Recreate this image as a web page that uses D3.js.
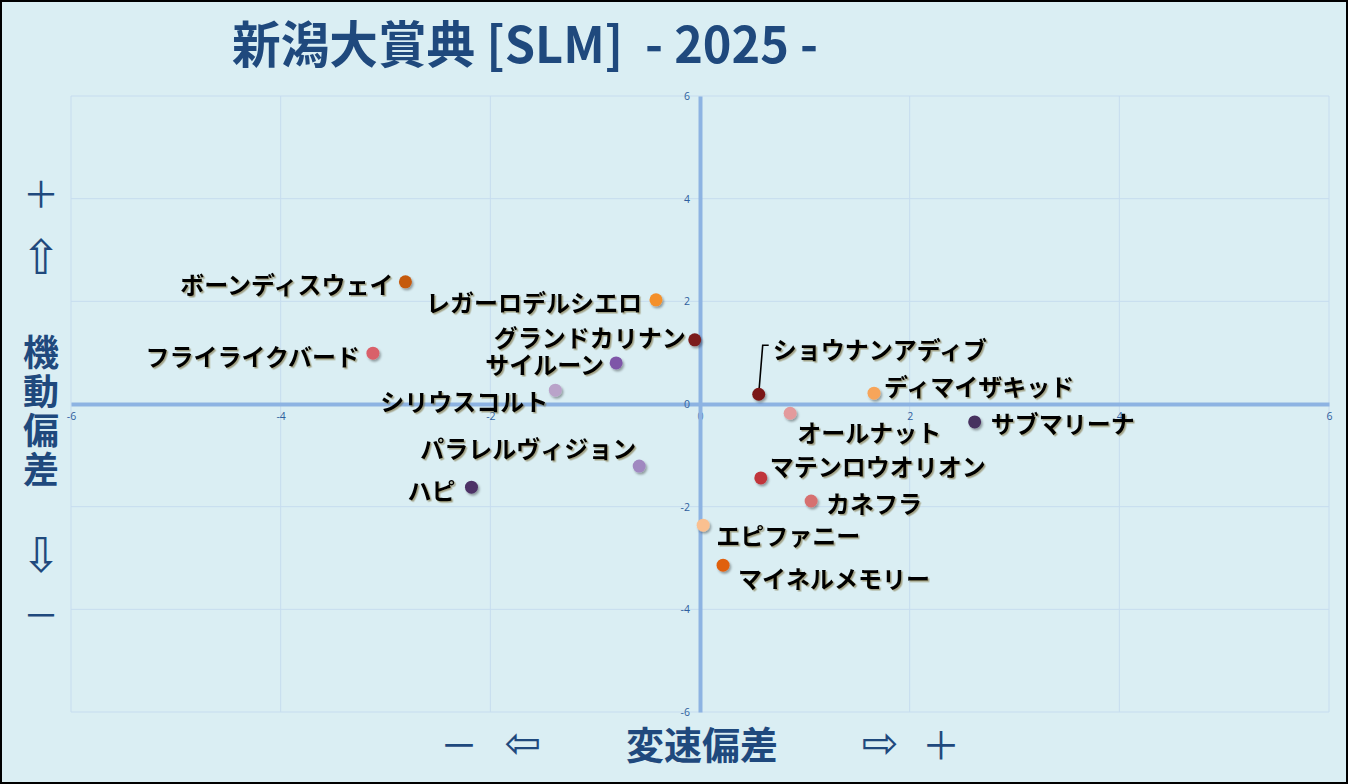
<!DOCTYPE html>
<html><head><meta charset="utf-8">
<script src="https://cdn.jsdelivr.net/npm/d3@7/dist/d3.min.js"></script>
<style>
html,body{margin:0;padding:0;background:#daeef3;}
svg{display:block;}
</style></head>
<body>
<svg id="chart" width="1348" height="784"></svg>
<script>
// ---- data ----
const horses = ["ボーンディスウェイ","レガーロデルシエロ","グランドカリナン","フライライクバード","サイルーン","シリウスコルト","ショウナンアディブ","ディマイザキッド","オールナット","サブマリーナ","パラレルヴィジョン","ハピ","マテンロウオリオン","カネフラ","エピファニー","マイネルメモリー"];
const speedDev = [-2.81,-0.42,-0.05,-3.12,-0.80,-1.38,0.56,1.66,0.86,2.62,-0.58,-2.18,0.58,1.06,0.03,0.22];
const mobilityDev = [2.38,2.03,1.25,0.99,0.80,0.27,0.19,0.21,-0.18,-0.35,-1.21,-1.62,-1.44,-1.89,-2.36,-3.14];
const xTicks = [-6,-4,-2,0,2,4,6];
const yTicks = [-6,-4,-2,0,2,4,6];
const title = "新潟大賞典 [SLM]  - 2025 -";

// ---- styling / layout (not data) ----
const colors = ["#c55a11","#f4902a","#7b1f1f","#d9606a","#7e57a8","#b9a3c9","#7a1818","#f7a55a","#e39a9c","#47305e","#a088c0","#4d3266","#c0343a","#d66f70","#fac090","#e06010"];
// label placement: [dx, dy, anchor]
const labelPlace = [[-12,2,"end"],[-14,2,"end"],[-9,-3,"end"],[-13,2,"end"],[-12,1,"end"],[-7,10,"end"],[14,-46,"start"],[10,-8,"start"],[7,18,"start"],[16,1,"start"],[-3,-19,"end"],[-16,2,"end"],[9,-12,"start"],[15,1,"start"],[13,9,"start"],[15,12,"start"]];

const W=1348,H=784;
const svg=d3.select("#chart");
const navy="#1f497d";
const font="'Noto Sans CJK JP','Noto Sans',sans-serif";

const defs=svg.append("defs");
const f1=defs.append("filter").attr("id","ptShadow").attr("x","-50%").attr("y","-50%").attr("width","200%").attr("height","200%");
f1.append("feDropShadow").attr("dx",1.5).attr("dy",2).attr("stdDeviation",1.2).attr("flood-color","#000").attr("flood-opacity",0.35);
const f2=defs.append("filter").attr("id","txtShadow").attr("x","-10%").attr("y","-30%").attr("width","120%").attr("height","160%");
f2.append("feDropShadow").attr("dx",1.5).attr("dy",1.5).attr("stdDeviation",0.6).attr("flood-color","#6b5a20").attr("flood-opacity",0.5);

svg.append("rect").attr("x",1).attr("y",1).attr("width",W-2).attr("height",H-2).attr("fill","#daeef3").attr("stroke","#000").attr("stroke-width",2);

const x=d3.scaleLinear().domain([-6,6]).range([71,1329]);
const y=d3.scaleLinear().domain([-6,6]).range([712,96]);

// grid
const grid=svg.append("g");
grid.selectAll("line.vx").data(xTicks).join("line").attr("x1",d=>x(d)).attr("x2",d=>x(d)).attr("y1",y(6)).attr("y2",y(-6)).attr("stroke","#c6dcef").attr("stroke-width",1);
grid.selectAll("line.hy").data(yTicks).join("line").attr("y1",d=>y(d)).attr("y2",d=>y(d)).attr("x1",x(-6)).attr("x2",x(6)).attr("stroke","#c6dcef").attr("stroke-width",1);

// axes through origin
const fmt=d=>String(d);
const xAxis=d3.axisBottom(x).tickValues(xTicks).tickFormat(fmt).tickSize(0).tickPadding(9);
const gx=svg.append("g").attr("transform",`translate(0,${y(0)})`).call(xAxis);
gx.select(".domain").attr("stroke","#8db3e2").attr("stroke-width",4);
gx.selectAll("text").attr("fill","#2f5f9e").style("font-family","'Open Sans',sans-serif").style("font-size","10.5px");
const yAxis=d3.axisLeft(y).tickValues(yTicks).tickFormat(fmt).tickSize(0).tickPadding(10);
const gy=svg.append("g").attr("transform",`translate(${x(0)},0)`).call(yAxis);
gy.select(".domain").attr("stroke","#8db3e2").attr("stroke-width",4);
gy.selectAll("text").attr("fill","#2f5f9e").style("font-family","'Open Sans',sans-serif").style("font-size","10.5px");

// title
svg.append("text").attr("x",232).attr("y",63).attr("textLength",586).attr("lengthAdjust","spacingAndGlyphs")
  .attr("fill",navy).style("font-family",font).style("font-weight","bold").style("font-size","50px").style("white-space","pre").text(title);

// left axis title
const isArrow=s=>/[⇧⇩⇦⇨]/.test(s);
const leftItems=[["＋",192],["⇧",257],["機",350],["動",389],["偏",428],["差",467],["⇩",555],["－",613]];
svg.append("g").selectAll("text").data(leftItems).join("text")
  .attr("x",41).attr("y",d=>d[1]).attr("text-anchor","middle").attr("dominant-baseline","central")
  .attr("fill",navy).style("font-family",d=>isArrow(d[0])?"'DejaVu Sans',sans-serif":font)
  .style("font-weight",d=>/[機動偏差]/.test(d[0])?"bold":"normal").style("font-size",d=>isArrow(d[0])?"48px":"36px").text(d=>d[0]);

// bottom axis title
const botItems=[["－",459],["⇦",523],["変速偏差",702],["⇨",880],["＋",941]];
svg.append("g").selectAll("text").data(botItems).join("text")
  .attr("x",d=>d[1]).attr("y",742).attr("text-anchor","middle").attr("dominant-baseline","central")
  .attr("fill",navy).style("font-family",d=>isArrow(d[0])?"'DejaVu Sans',sans-serif":font)
  .style("font-weight",d=>d[0]==="変速偏差"?"bold":"normal").style("font-size",d=>isArrow(d[0])?"44px":"38px").text(d=>d[0]);

// data table
const pts=horses.map((h,i)=>({name:h,sx:speedDev[i],my:mobilityDev[i],c:colors[i],lp:labelPlace[i]}));

// leader line for ショウナンアディブ
const sh=pts[6];
svg.append("path").attr("d",`M${x(sh.sx)},${y(sh.my)} L${x(sh.sx)+4},${y(sh.my)-49} L${x(sh.sx)+10},${y(sh.my)-49}`)
  .attr("fill","none").attr("stroke","#000").attr("stroke-width",1.6);

svg.append("g").selectAll("circle").data(pts).join("circle")
  .attr("cx",d=>x(d.sx)).attr("cy",d=>y(d.my)).attr("r",6.5).attr("fill",d=>d.c).attr("filter","url(#ptShadow)");

svg.append("g").selectAll("text").data(pts).join("text")
  .attr("x",d=>x(d.sx)+d.lp[0]).attr("y",d=>y(d.my)+d.lp[1]).attr("text-anchor",d=>d.lp[2]).attr("dominant-baseline","central")
  .attr("fill","#000").attr("filter","url(#txtShadow)")
  .style("font-family",font).style("font-weight","bold").style("font-size","24px").text(d=>d.name);
</script>
</body></html>
